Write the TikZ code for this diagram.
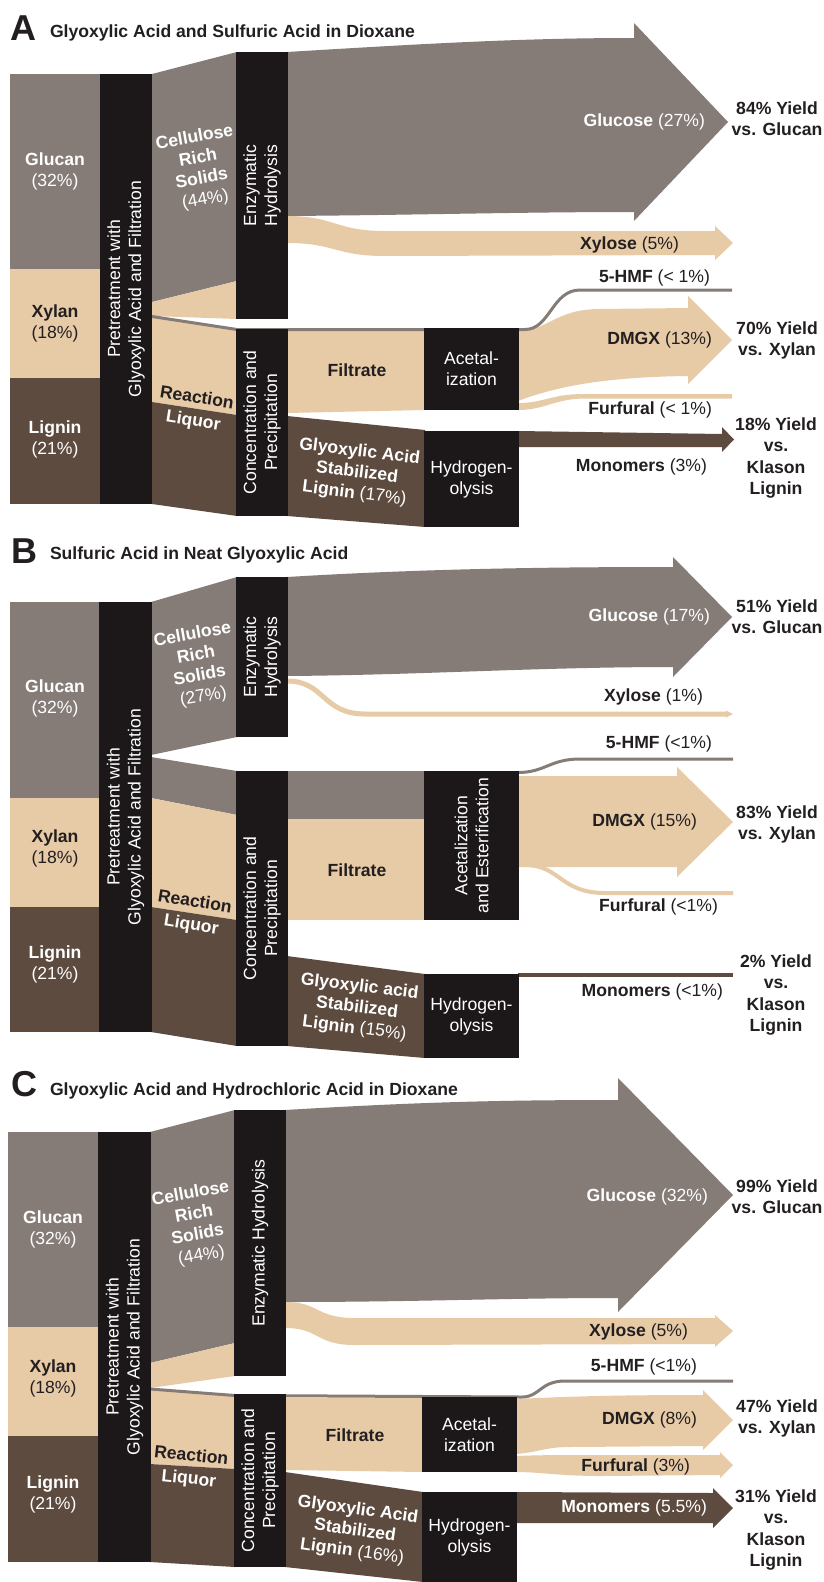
\documentclass[tikz,border=0pt]{standalone}
\usepackage{fontspec}
\setmainfont{Liberation Sans}
\definecolor{gry}{HTML}{857B77}
\definecolor{tn}{HTML}{E7CBA7}
\definecolor{brn}{HTML}{5E4B3F}
\definecolor{barc}{HTML}{1C1819}
\definecolor{ink}{HTML}{231F20}
\newcommand\fs{\fontsize{17.6}{21}\selectfont}
\tikzset{
  every node/.style={font=\fs, inner sep=0pt, outer sep=0pt, align=center},
  barbox/.style={fill=barc, draw=none, text=white},
  hmf/.style={draw=gry, line width=3pt},
  big/.style={font=\fontsize{36}{36}\selectfont\bfseries, text=ink, anchor=base west},
  ttl/.style={text=ink, anchor=base west},
  wl/.style={text=white},
  kl/.style={text=ink},
  rl/.style={anchor=east},
  gasl/.style={text=white, font=\fontsize{17.6}{21}\selectfont},
}
\begin{document}
\begin{tikzpicture}[x=1pt,y=-1pt]
\useasboundingbox (0,0) rectangle (824,1582);
\fill[white] (0,0) rectangle (824,1582);

%================= PANEL A =================
\fill[gry] (10,74) rectangle (100,269);
\fill[tn] (10,269) rectangle (100,378);
\fill[brn] (10,378) rectangle (100,504);
\fill[gry] (152,74) -- (237,52) -- (237,281) -- (152,302) -- cycle;
\fill[tn] (152,302) -- (237,281) -- (237,319) -- (152,316) -- cycle;
\fill[tn] (152,317) -- (237,330) -- (237,415) -- (152,402) -- cycle;
\fill[brn] (152,402) -- (237,415) -- (237,516) -- (152,504) -- cycle;
\fill[gry] (287,52) .. controls (420,44) and (520,38) .. (634,38) -- (634,23) -- (728,122) -- (634,221) -- (634,212) .. controls (520,212) and (420,215) .. (287,216) -- cycle;
\fill[tn] (287,216) .. controls (335,216) and (335,231) .. (385,231) -- (715,231) -- (715,226) -- (733,243) -- (715,260) -- (715,255) -- (385,256) .. controls (335,256) and (335,243) .. (287,243) -- cycle;
\fill[tn] (287,331) -- (425,331) -- (425,410) -- (287,413) -- cycle;
\fill[brn] (287,416) -- (425,430) -- (425,527) -- (287,516) -- cycle;
\fill[tn] (518,331) .. controls (548,331) and (555,309) .. (600,309) -- (688,308) -- (688,296) -- (732,340) -- (688,384) -- (688,376) .. controls (610,377) and (560,385) .. (518,401) -- cycle;
\fill[tn] (518,403) .. controls (545,403) and (550,394) .. (585,394) -- (732,394) -- (732,398.5) -- (585,398.5) .. controls (555,398.5) and (545,410) .. (518,410) -- cycle;
\fill[brn] (518,431) -- (722,434) -- (722,427) -- (734,439.5) -- (722,452) -- (722,447) -- (518,447) -- cycle;
\draw[hmf] (152,316.5) -- (237,329.5) -- (525,329.5) .. controls (550,329.5) and (552,290) .. (580,290) -- (732,290);

\node[barbox, rotate=90, minimum width=430, minimum height=52] (pA) at (126,289) {Pretreatment with\\Glyoxylic Acid and Filtration};
\node[barbox, rotate=90, minimum width=267, minimum height=52] (eA) at (262,185.5) {Enzymatic\\Hydrolysis};
\node[barbox, rotate=90, minimum width=187, minimum height=52] (cA) at (262,422.5) {Concentration and\\Precipitation};
\node[barbox, minimum width=95, minimum height=82] (aA) at (471.5,369) {Acetal-\\ization};
\node[barbox, minimum width=95, minimum height=96] (hA) at (471.5,479) {Hydrogen-\\olysis};

\node[big] (LA) at (10,40) {A};
\node[ttl] (TA) at (50,37) {\textbf{Glyoxylic Acid and Sulfuric Acid in Dioxane}};
\node[wl] (glA) at (55,171) {\textbf{Glucan}\\(32\%)};
\node[kl] (xyA) at (55,323) {\textbf{Xylan}\\(18\%)};
\node[wl] (liA) at (55,439) {\textbf{Lignin}\\(21\%)};
\node[wl, rotate=10] (crsA) at (200,169) {\textbf{Cellulose}\\\textbf{Rich}\\\textbf{Solids}\\(44\%)};
\node[rotate=-9, font=\fontsize{17.6}{23}\selectfont] (rlA) at (195,410) {\textcolor{ink}{\textbf{Reaction}}\\\textcolor{white}{\textbf{Liquor}}};
\node[kl] (fA) at (357,370) {\textbf{Filtrate}};
\node[gasl, rotate=-7] (gA) at (357,473) {\textbf{Glyoxylic Acid}\\\textbf{Stabilized}\\\textbf{Lignin} (17\%)};
\node[wl, rl] (gluA) at (705,122) {\textbf{Glucose} (27\%)};
\node[kl] (ygA) at (777,119) {\textbf{84\% Yield}\\\textbf{vs. Glucan}};
\node[kl, rl] (xA) at (679,245) {\textbf{Xylose} (5\%)};
\node[kl, rl] (hmA) at (710,278) {\textbf{5-HMF} (< 1\%)};
\node[kl, rl] (dA) at (712,340) {\textbf{DMGX} (13\%)};
\node[kl] (ydA) at (777,340) {\textbf{70\% Yield}\\\textbf{vs. Xylan}};
\node[kl, rl] (fuA) at (712,410) {\textbf{Furfural} (< 1\%)};
\node[kl, rl] (mA) at (707,467) {\textbf{Monomers} (3\%)};
\node[kl, font=\fontsize{17.6}{21.5}\selectfont] (ymA) at (776,458) {\textbf{18\% Yield}\\\textbf{vs.}\\\textbf{Klason}\\\textbf{Lignin}};

%================= PANEL B =================
\fill[gry] (10,602) rectangle (99,798);
\fill[tn] (10,798) rectangle (99,907);
\fill[brn] (10,907) rectangle (99,1032);
\fill[gry] (151,602) -- (237,577) -- (237,737) -- (151,755) -- cycle;
\fill[gry] (151,757) -- (237,771) -- (237,815) -- (151,798) -- cycle;
\fill[tn] (151,798) -- (237,815) -- (237,920) -- (151,907) -- cycle;
\fill[brn] (151,907) -- (237,920) -- (237,1046) -- (151,1032) -- cycle;
\fill[gry] (287,771) rectangle (425,819);
\fill[tn] (287,819) rectangle (425,920);
\fill[brn] (287,956) -- (425,974) -- (425,1058) -- (287,1046) -- cycle;
\fill[gry] (287,577) .. controls (420,569) and (540,567) .. (673,567) -- (673,557) -- (732,617) -- (673,677) -- (673,667) .. controls (540,667) and (420,675) .. (287,676) -- cycle;
\draw[tn, line width=5pt] (287,681) .. controls (325,681) and (322,714) .. (365,714) -- (728,714);
\fill[tn] (726,710.5) -- (733,714) -- (726,717.5) -- cycle;
\fill[tn] (518,776) -- (677,776) -- (677,767) -- (733,822) -- (677,877) -- (677,867) -- (518,867) -- cycle;
\draw[tn, line width=4pt] (525,865) .. controls (560,865) and (560,893) .. (605,893) -- (733,893);
\fill[brn] (518,973) rectangle (733,976.5);
\draw[hmf] (518,772.5) .. controls (545,772.5) and (550,759) .. (580,759) -- (733,759);

\node[barbox, rotate=90, minimum width=430, minimum height=53] (pB) at (125.5,817) {Pretreatment with\\Glyoxylic Acid and Filtration};
\node[barbox, rotate=90, minimum width=160, minimum height=52] (eB) at (262,657) {Enzymatic\\Hydrolysis};
\node[barbox, rotate=90, minimum width=275, minimum height=52] (cB) at (262,908.5) {Concentration and\\Precipitation};
\node[barbox, rotate=90, minimum width=149, minimum height=95] (aB) at (471.5,845.5) {Acetalization\\and Esterification};
\node[barbox, minimum width=95, minimum height=84] (hB) at (471.5,1016) {Hydrogen-\\olysis};

\node[big] (LB) at (12,563) {B};
\node[ttl] (TB) at (50,559) {\textbf{Sulfuric Acid in Neat Glyoxylic Acid}};
\node[wl] (glB) at (55,698) {\textbf{Glucan}\\(32\%)};
\node[kl] (xyB) at (55,848) {\textbf{Xylan}\\(18\%)};
\node[wl] (liB) at (55,964) {\textbf{Lignin}\\(21\%)};
\node[wl, rotate=10] (crsB) at (198,666) {\textbf{Cellulose}\\\textbf{Rich}\\\textbf{Solids}\\(27\%)};
\node[rotate=-9, font=\fontsize{17.6}{23}\selectfont] (rlB) at (193,914) {\textcolor{ink}{\textbf{Reaction}}\\\textcolor{white}{\textbf{Liquor}}};
\node[kl] (fB) at (357,870) {\textbf{Filtrate}};
\node[gasl, rotate=-7] (gB) at (357,1008) {\textbf{Glyoxylic acid}\\\textbf{Stabilized}\\\textbf{Lignin} (15\%)};
\node[wl, rl] (gluB) at (710,617) {\textbf{Glucose} (17\%)};
\node[kl] (ygB) at (777,617) {\textbf{51\% Yield}\\\textbf{vs. Glucan}};
\node[kl, rl] (xB) at (703,697) {\textbf{Xylose} (1\%)};
\node[kl, rl] (hmB) at (712,744) {\textbf{5-HMF} (<1\%)};
\node[kl, rl] (dB) at (697,822) {\textbf{DMGX} (15\%)};
\node[kl] (ydB) at (777,824) {\textbf{83\% Yield}\\\textbf{vs. Xylan}};
\node[kl, rl] (fuB) at (718,907) {\textbf{Furfural} (<1\%)};
\node[kl, rl] (mB) at (723,992) {\textbf{Monomers} (<1\%)};
\node[kl, font=\fontsize{17.6}{21.5}\selectfont] (ymB) at (776,995) {\textbf{2\% Yield}\\\textbf{vs.}\\\textbf{Klason}\\\textbf{Lignin}};

%================= PANEL C =================
\fill[gry] (8,1132) rectangle (98,1327);
\fill[tn] (8,1327) rectangle (98,1436);
\fill[brn] (8,1436) rectangle (98,1562);
\fill[gry] (150,1132) -- (235,1110) -- (235,1343) -- (150,1363) -- cycle;
\fill[tn] (150,1363) -- (235,1343) -- (235,1376) -- (150,1388) -- cycle;
\fill[tn] (150,1390) -- (235,1396) -- (235,1469) -- (150,1464) -- cycle;
\fill[brn] (150,1464) -- (235,1469) -- (235,1567) -- (150,1562) -- cycle;
\fill[gry] (285,1110) .. controls (420,1102) and (500,1100) .. (618,1100) -- (618,1078) -- (733,1195) -- (618,1312) -- (618,1298) .. controls (500,1298) and (420,1302) .. (285,1302) -- cycle;
\fill[tn] (285,1302) .. controls (320,1302) and (315,1318) .. (355,1318) -- (715,1318) -- (715,1315) -- (733,1331) -- (715,1347) -- (715,1344) -- (355,1345) .. controls (315,1345) and (320,1328) .. (285,1328) -- cycle;
\fill[tn] (285,1398) -- (423,1398) -- (423,1472) -- (285,1470) -- cycle;
\fill[brn] (285,1472) -- (423,1492) -- (423,1582) -- (285,1567) -- cycle;
\fill[tn] (516,1399) .. controls (560,1397) and (600,1395) .. (703,1395) -- (703,1390) -- (733,1420) -- (703,1450) -- (703,1446) -- (570,1447) .. controls (545,1447) and (540,1452) .. (516,1454) -- cycle;
\fill[tn] (516,1456) .. controls (540,1455) and (560,1455) .. (600,1455) -- (720,1455) -- (720,1452) -- (733,1465) -- (720,1478) -- (720,1475) -- (600,1476) .. controls (560,1476) and (540,1472) .. (516,1472) -- cycle;
\fill[brn] (516,1492) -- (713,1493) -- (713,1488) -- (733,1508) -- (713,1528) -- (713,1523) -- (516,1523) -- cycle;
\draw[hmf] (150,1389) -- (235,1395.5) -- (522,1397) .. controls (540,1397) and (540,1381) .. (565,1381) -- (733,1381);

\node[barbox, rotate=90, minimum width=430, minimum height=53] (pC) at (124.5,1347) {Pretreatment with\\Glyoxylic Acid and Filtration};
\node[barbox, rotate=90, minimum width=266, minimum height=52] (eC) at (260,1243) {Enzymatic Hydrolysis};
\node[barbox, rotate=90, minimum width=173, minimum height=52] (cC) at (260,1480.5) {Concentration and\\Precipitation};
\node[barbox, minimum width=95, minimum height=75] (aC) at (469.5,1434.5) {Acetal-\\ization};
\node[barbox, minimum width=95, minimum height=90] (hC) at (469.5,1537) {Hydrogen-\\olysis};

\node[big] (LC) at (11,1096) {C};
\node[ttl] (TC) at (50,1095) {\textbf{Glyoxylic Acid and Hydrochloric Acid in Dioxane}};
\node[wl] (glC) at (53,1229) {\textbf{Glucan}\\(32\%)};
\node[kl] (xyC) at (53,1378) {\textbf{Xylan}\\(18\%)};
\node[wl] (liC) at (53,1494) {\textbf{Lignin}\\(21\%)};
\node[wl, rotate=10] (crsC) at (196,1225) {\textbf{Cellulose}\\\textbf{Rich}\\\textbf{Solids}\\(44\%)};
\node[rotate=-6, font=\fontsize{17.6}{23}\selectfont] (rlC) at (190,1468) {\textcolor{ink}{\textbf{Reaction}}\\\textcolor{white}{\textbf{Liquor}}};
\node[kl] (fC) at (355,1435) {\textbf{Filtrate}};
\node[gasl, rotate=-8] (gC) at (355,1531) {\textbf{Glyoxylic Acid}\\\textbf{Stabilized}\\\textbf{Lignin} (16\%)};
\node[wl, rl] (gluC) at (708,1197) {\textbf{Glucose} (32\%)};
\node[kl] (ygC) at (777,1197) {\textbf{99\% Yield}\\\textbf{vs. Glucan}};
\node[kl, rl] (xC) at (688,1332) {\textbf{Xylose} (5\%)};
\node[kl, rl] (hmC) at (697,1367) {\textbf{5-HMF} (<1\%)};
\node[kl, rl] (dC) at (697,1420) {\textbf{DMGX} (8\%)};
\node[kl] (ydC) at (777,1418) {\textbf{47\% Yield}\\\textbf{vs. Xylan}};
\node[kl, rl] (fuC) at (690,1467) {\textbf{Furfural} (3\%)};
\node[wl, rl] (mC) at (707,1508) {\textbf{Monomers} (5.5\%)};
\node[kl, font=\fontsize{17.6}{21.5}\selectfont] (ymC) at (776,1530) {\textbf{31\% Yield}\\\textbf{vs.}\\\textbf{Klason}\\\textbf{Lignin}};
\end{tikzpicture}
\end{document}
